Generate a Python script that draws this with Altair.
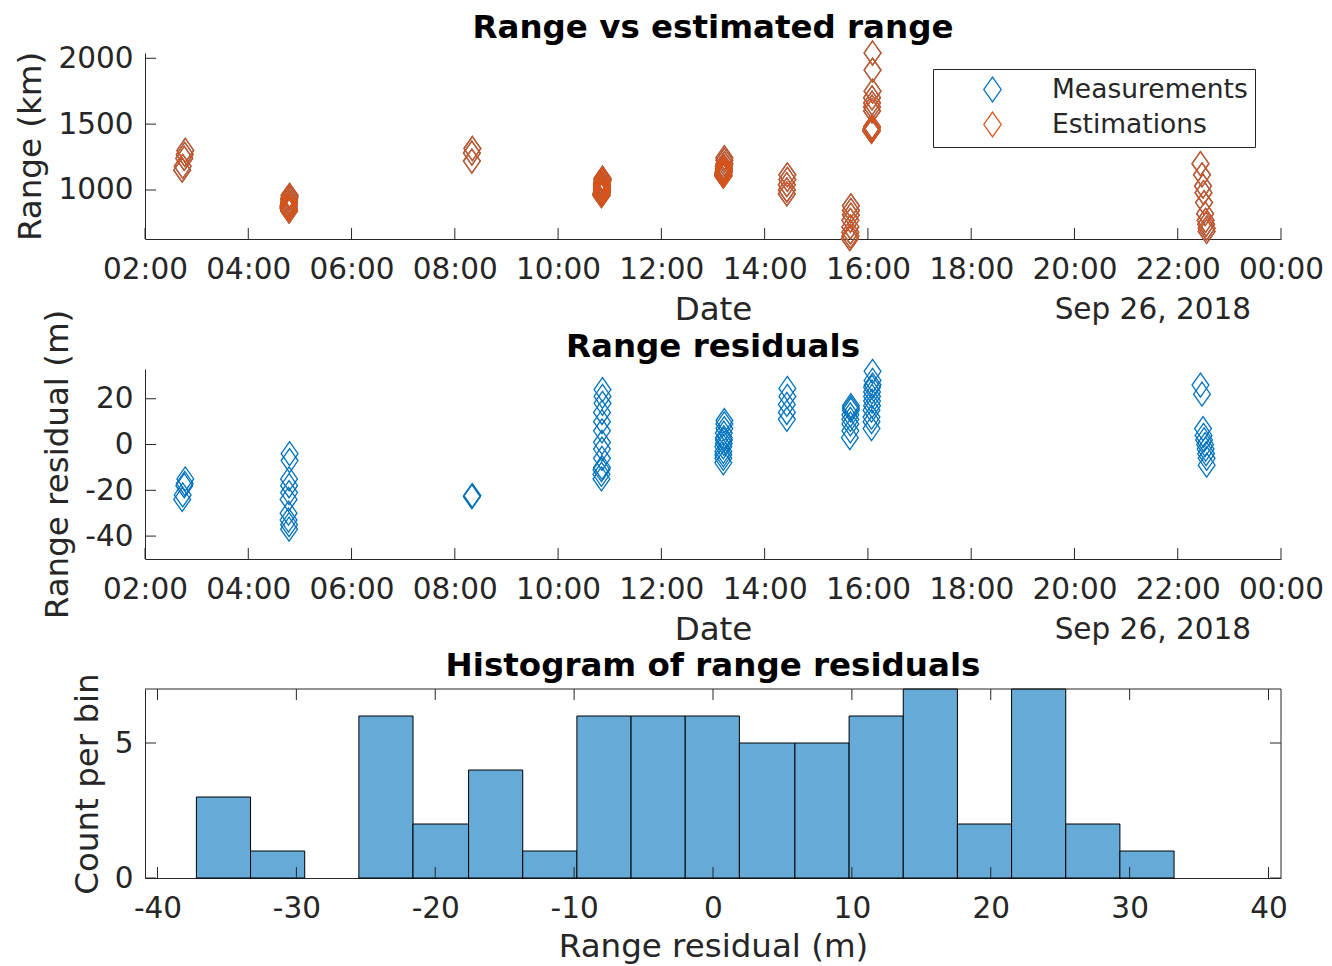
import altair as alt
import pandas as pd

# ---------------- data ----------------
# time of each measurement, hours after 00:00 on Sep 25 2018
time_h = [
    2.78, 2.77, 2.76, 2.73, 2.72,                                   # pass 1
    4.80, 4.80, 4.79, 4.79, 4.79, 4.78, 4.78, 4.78, 4.79, 4.79,     # pass 2
    8.34, 8.33, 8.33,                                               # pass 3
    10.86, 10.86, 10.86, 10.85, 10.85, 10.85, 10.85, 10.85, 10.85, 10.85, 10.84, 10.84, 10.84,
    13.22, 13.22, 13.22, 13.21, 13.21, 13.21, 13.21, 13.20, 13.20, 13.20, 13.20, 13.20,
    14.44, 14.44, 14.43, 14.43, 14.43,
    15.67, 15.67, 15.67, 15.66, 15.66, 15.66, 15.66, 15.65,
    16.09, 16.09, 16.09, 16.08, 16.08, 16.08, 16.08, 16.08, 16.07, 16.07, 16.07, 16.07,
    22.44, 22.47, 22.49, 22.50, 22.51, 22.53, 22.54, 22.55, 22.56, 22.56,
]
# estimated range (km)
est_range_km = [
    1300, 1270, 1240, 1180, 1150,
    960, 945, 930, 910, 895, 880, 870, 860, 850, 840,
    1315, 1280, 1220,
    1090, 1080, 1070, 1055, 1040, 1030, 1020, 1005, 995, 985, 975, 965, 957,
    1245, 1225, 1200, 1180, 1165, 1150, 1140, 1130, 1120, 1115, 1110, 1105,
    1115, 1080, 1040, 1000, 970,
    880, 845, 810, 770, 720, 680, 650, 630,
    2040, 1910, 1750, 1700, 1660, 1630, 1600, 1480, 1465, 1455, 1450, 1445,
    1200, 1115, 1030, 980, 905, 820, 770, 740, 710, 685,
]
# measured range (km) - coincides with the estimate at this scale
meas_range_km = list(est_range_km)
# range residuals (m)
residual_m = [
    -15, -17, -18, -22, -24,
    -4, -7, -15, -18, -21, -24, -30, -33, -35, -37,
    -22.3, -22.8, -22.5,
    24, 21, 18, 14, 10, 6, 1, -2, -6, -10, -11, -13, -15,
    10.5, 9, 7, 5, 3, 2, 0.5, -1, -3, -4.5, -6, -8,
    24.5, 21, 17.5, 14, 11,
    17, 16, 15, 13, 11, 9, 6, 3,
    32, 28, 26, 25, 23, 21, 19, 17, 15, 12, 10, 7,
    26, 22, 7, 4, 2, 0, -2, -4, -6, -9,
]

series_names = ["Measurements", "Estimations"]
series_colors = ["#0072BD", "#D95319"]

time_ticks_h = [2, 4, 6, 8, 10, 12, 14, 16, 18, 20, 22, 24]
range_ticks_km = [1000, 1500, 2000]
resid_ticks_m = [-40, -20, 0, 20]

hist_lo_m = [-37.2, -33.3, -29.4, -25.5, -21.6, -17.6, -13.7, -9.8, -5.9,
             -2.0, 1.9, 5.9, 9.8, 13.7, 17.6, 21.5, 25.4, 29.3]
hist_hi_m = [-33.3, -29.4, -25.5, -21.6, -17.6, -13.7, -9.8, -5.9, -2.0,
             1.9, 5.9, 9.8, 13.7, 17.6, 21.5, 25.4, 29.3, 33.2]
hist_count = [3, 1, 0, 6, 2, 4, 1, 6, 6, 6, 5, 5, 6, 7, 2, 7, 2, 1]
hist_x_ticks = [-40, -30, -20, -10, 0, 10, 20, 30, 40]
hist_y_ticks = [0, 5]

titles = ["Range vs estimated range", "Range residuals", "Histogram of range residuals"]
date_note_text = "Sep 26, 2018"

# ---------------- styling ----------------
W = 1136
H1, H2, H3 = 186, 190, 189
GAP = 130
TICK = 11
AX = "#262626"
FONT = "DejaVu Sans"
DIAMOND = "M0,-1L0.7,0L0,1L-0.7,0Z"
MSIZE = 576

time_label = ("datum.value == 24 ? '00:00' : "
              "(datum.value < 10 ? '0' : '') + datum.value + ':00'")


def make_axis(vals, ttl, expr="'' + datum.value", lp=12, tp=10):
    return alt.Axis(values=vals, labelExpr=expr, ticks=False, tickSize=0, grid=False,
                    title=ttl, labelPadding=lp, titlePadding=tp,
                    labelOverlap=False, labelFlush=False)


ax_time = make_axis(time_ticks_h, "Date", time_label, lp=16, tp=10)
ax_range = make_axis(range_ticks_km, "Range (km)")
ax_resid = make_axis(resid_ticks_m, "Range residual (m)")
ax_hx = make_axis(hist_x_ticks, "Range residual (m)", lp=16, tp=8)
ax_hy = make_axis(hist_y_ticks, "Count per bin")

x_time = alt.Scale(domain=[2, 24], nice=False, zero=False)
y_range = alt.Scale(domain=[628, 2040], nice=False, zero=False)
y_resid = alt.Scale(domain=[-50, 33], nice=False, zero=False)
x_hist = alt.Scale(domain=[-40.9, 40.9], nice=False, zero=False)
y_hist = alt.Scale(domain=[0, 7], nice=False, zero=False)


def date_note(h):
    return alt.Chart(pd.DataFrame({"s": [date_note_text]})).mark_text(
        align="right", baseline="alphabetic", fontSize=29.5, font=FONT, color=AX).encode(
        x=alt.value(W - 30), y=alt.value(h + 80), text="s:N")


def panel_title(text, dy):
    return alt.Chart(pd.DataFrame({"s": [text]})).mark_text(
        align="center", baseline="alphabetic", fontSize=32.5, font=FONT,
        fontWeight="bold", color="black").encode(
        x=alt.value(W / 2), y=alt.value(-dy), text="s:N")


def xticks(vals, field, scale, axis, h, top=False):
    c = alt.Chart(pd.DataFrame({field: vals})).mark_rule(color=AX, strokeWidth=1)
    xx = alt.X(f"{field}:Q", scale=scale, axis=axis)
    if top:
        return c.encode(x=xx, y=alt.value(0), y2=alt.value(TICK))
    return c.encode(x=xx, y=alt.value(h), y2=alt.value(h - TICK))


def yticks(vals, field, scale, axis, right=False):
    c = alt.Chart(pd.DataFrame({field: vals})).mark_rule(color=AX, strokeWidth=1)
    yy = alt.Y(f"{field}:Q", scale=scale, axis=axis)
    if right:
        return c.encode(y=yy, x=alt.value(W - TICK), x2=alt.value(W))
    return c.encode(y=yy, x=alt.value(0), x2=alt.value(TICK))


# ---------------- panel 1 ----------------
n = len(time_h)
df1 = pd.DataFrame({
    "t": time_h + time_h,
    "r": meas_range_km + est_range_km,
    "series": [series_names[0]] * n + [series_names[1]] * n,
})
legend = alt.Legend(orient="none", legendX=788, legendY=16, title=None,
                    strokeColor=AX, fillColor="white", padding=7,
                    symbolType=DIAMOND, symbolSize=620, symbolStrokeWidth=1.3,
                    symbolOffset=39, labelOffset=46, labelFontSize=26.5, labelFont=FONT,
                    labelColor=AX, rowPadding=4, labelLimit=600)
pts1 = alt.Chart(df1).mark_point(shape=DIAMOND, filled=False, size=MSIZE, strokeWidth=1.3,
                                 opacity=1).encode(
    x=alt.X("t:Q", scale=x_time, axis=ax_time),
    y=alt.Y("r:Q", scale=y_range, axis=ax_range),
    color=alt.Color("series:N", scale=alt.Scale(domain=series_names, range=series_colors),
                    legend=legend),
)
p1 = alt.layer(
    pts1,
    xticks(time_ticks_h, "t", x_time, ax_time, H1),
    yticks(range_ticks_km, "r", y_range, ax_range),
    date_note(H1),
    panel_title(titles[0], 15),
).properties(width=W, height=H1)

# ---------------- panel 2 ----------------
df2 = pd.DataFrame({"t": time_h, "res": residual_m})
pts2 = alt.Chart(df2).mark_point(shape=DIAMOND, filled=False, size=MSIZE, strokeWidth=1.3,
                                 color=series_colors[0], opacity=1).encode(
    x=alt.X("t:Q", scale=x_time, axis=ax_time),
    y=alt.Y("res:Q", scale=y_resid, axis=ax_resid),
)
p2 = alt.layer(
    pts2,
    xticks(time_ticks_h, "t", x_time, ax_time, H2),
    yticks(resid_ticks_m, "res", y_resid, ax_resid),
    date_note(H2),
    panel_title(titles[1], 12),
).properties(width=W, height=H2)

# ---------------- panel 3 ----------------
df3 = pd.DataFrame({"lo": hist_lo_m, "hi": hist_hi_m, "n": hist_count,
                    "base": [0] * len(hist_count)})
bars = alt.Chart(df3).transform_filter("datum.n > 0").mark_rect(
    fill="#66AAD7", stroke="black", strokeWidth=1).encode(
    x=alt.X("lo:Q", scale=x_hist, axis=ax_hx),
    x2="hi:Q",
    y=alt.Y("n:Q", scale=y_hist, axis=ax_hy),
    y2="base:Q",
)
edge = alt.Chart(pd.DataFrame({"k": [0]}))
top_edge = edge.mark_rule(color=AX, strokeWidth=1).encode(
    x=alt.value(0), x2=alt.value(W), y=alt.value(0))
right_edge = edge.mark_rule(color=AX, strokeWidth=1).encode(
    x=alt.value(W), y=alt.value(0), y2=alt.value(H3))
p3 = alt.layer(
    bars, top_edge, right_edge,
    xticks(hist_x_ticks, "lo", x_hist, ax_hx, H3),
    xticks(hist_x_ticks, "lo", x_hist, ax_hx, H3, top=True),
    yticks(hist_y_ticks, "n", y_hist, ax_hy),
    yticks(hist_y_ticks, "n", y_hist, ax_hy, right=True),
    panel_title(titles[2], 13),
).properties(width=W, height=H3)

chart = alt.vconcat(p1, p2, p3, spacing=GAP, bounds="flush").resolve_scale(
    color="independent").resolve_legend(color="independent").properties(
    padding={"left": 14, "top": 12, "right": 4, "bottom": 2},
    background="white",
).configure_view(stroke=None).configure_axis(
    labelFont=FONT, labelFontSize=29.5, labelColor=AX,
    titleFont=FONT, titleFontSize=32.5, titleFontWeight="normal", titleColor=AX,
    domainColor=AX, domainWidth=1,
)

chart.save("out.html", embed_options={"renderer": "svg", "actions": False})
